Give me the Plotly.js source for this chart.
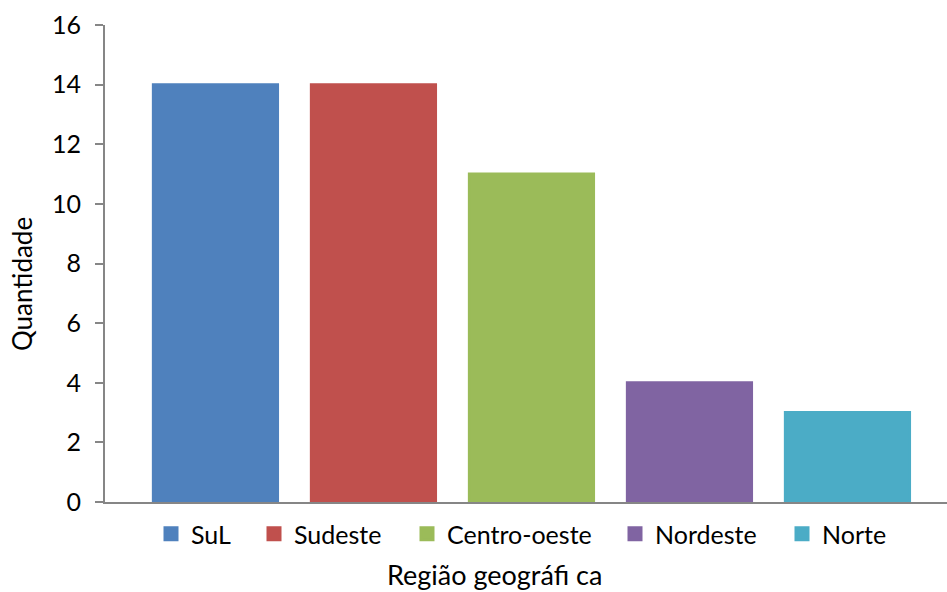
<!DOCTYPE html>
<html>
<head>
<meta charset="utf-8">
<script src="https://cdn.plot.ly/plotly-3.0.1.min.js"></script>
<style>html,body{margin:0;padding:0;background:#fff;}#chart{width:947px;height:592px;}</style>
</head>
<body>
<div id="chart"></div>
<script>
var regions = ["SuL", "Sudeste", "Centro-oeste", "Nordeste", "Norte"];
var quantities = [14, 14, 11, 4, 3];
var colors = ["#4F81BD", "#C0504D", "#9BBB59", "#8064A2", "#4BACC6"];
var yTicks = [0, 2, 4, 6, 8, 10, 12, 14, 16];
var xTitle = "Região geográfi ca";
var yTitle = "Quantidade";

var FONT = "Lato, 'Open Sans', sans-serif";
var PLOT_L = 105, PLOT_W = 842, PLOT_B = 502, PLOT_H = 477;
// legend square left edges in pixels (layout only)
var legendPx = [170, 273, 426, 634, 801];
var legendNames = ["legend", "legend2", "legend3", "legend4", "legend5"];

var traces = regions.map(function (r, i) {
  return {
    type: "bar",
    name: r,
    x: [r],
    y: [quantities[i]],
    width: 0.786,
    marker: {color: colors[i], line: {width: 3, color: colors[i]}},
    legend: legendNames[i],
    hoverinfo: "x+y"
  };
});

var layout = {
  width: 947, height: 592,
  margin: {l: PLOT_L, r: 0, t: 25, b: 90, pad: 0},
  paper_bgcolor: "#ffffff", plot_bgcolor: "#ffffff",
  font: {family: FONT, size: 25, color: "#000000"},
  barmode: "overlay",
  showlegend: true,
  xaxis: {
    type: "category", categoryorder: "array", categoryarray: regions,
    range: [-0.699, 4.63],
    showticklabels: false, ticks: "", showgrid: false, zeroline: false,
    showline: true, linecolor: "#868686", linewidth: 2, layer: "above traces"
  },
  yaxis: {
    range: [0, 16], tickvals: yTicks, ticktext: yTicks.map(String),
    ticks: "outside", ticklen: 8, tickwidth: 2, tickcolor: "#868686",
    showline: true, linecolor: "#868686", linewidth: 2,
    showgrid: false, zeroline: false,
    tickfont: {family: FONT, size: 25, color: "#000000"},
    ticklabelstandoff: 9
  },
  annotations: [
    {text: xTitle, xref: "paper", yref: "paper", x: (494 - PLOT_L) / PLOT_W, y: -(574 - PLOT_B) / PLOT_H,
     xanchor: "center", yanchor: "middle", showarrow: false,
     font: {family: FONT, size: 27, color: "#000000"}},
    {text: yTitle, xref: "paper", yref: "paper", x: -(PLOT_L - 22) / PLOT_W, y: (PLOT_B - 284) / PLOT_H,
     xanchor: "center", yanchor: "middle", showarrow: false, textangle: -90,
     font: {family: FONT, size: 26, color: "#000000"}}
  ]
};

legendNames.forEach(function (ln, i) {
  layout[ln] = {
    orientation: "h", xanchor: "left", yanchor: "middle",
    x: (legendPx[i] - 19 - PLOT_L) / PLOT_W, y: -(534 - PLOT_B) / PLOT_H,
    font: {family: FONT, size: 25, color: "#000000"},
    bgcolor: "rgba(0,0,0,0)", borderwidth: 0, itemclick: false
  };
});

Plotly.newPlot("chart", traces, layout, {displayModeBar: false, staticPlot: true});
</script>
</body>
</html>
